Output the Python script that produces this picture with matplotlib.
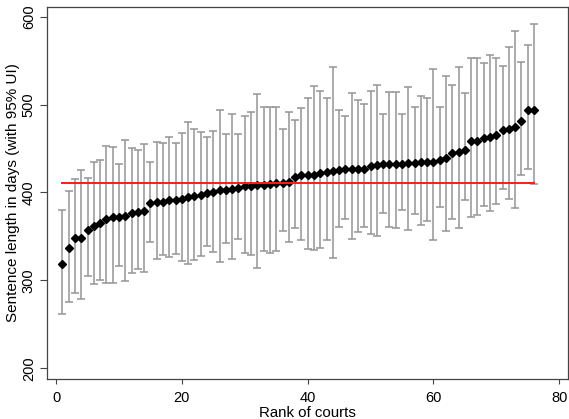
import numpy as np
import matplotlib
matplotlib.use('Agg')
import matplotlib.pyplot as plt

plt.rcParams['font.family'] = ['Liberation Sans', 'DejaVu Sans']

# estimates and 95% UI per court, ranked
rank = np.arange(1, 77)
est = [318.8, 336.7, 348.1, 348.1, 357.6, 361.4, 365.2, 369.7, 371.6, 371.6,
       372.8, 376.6, 378.1, 379.2, 387.9, 388.7, 389.5, 391.0, 391.8, 392.9,
       394.8, 396.3, 397.1, 399.3, 400.5, 402.4, 403.1, 404.3, 405.0, 406.9,
       407.7, 408.5, 408.1, 409.2, 410.7, 410.7, 411.5, 417.6, 419.9, 420.2,
       420.2, 422.1, 423.3, 424.8, 425.9, 426.7, 426.7, 426.7, 426.7, 429.7,
       431.6, 432.8, 432.8, 432.8, 432.8, 433.5, 433.5, 434.3, 434.3, 435.1,
       437.3, 439.2, 444.9, 445.7, 448.7, 458.2, 458.2, 462.0, 463.2, 465.8,
       470.8, 472.3, 474.6, 481.0, 493.6, 494.3]
upper = [380.4, 402.0, 415.3, 425.2, 416.4, 434.3, 436.6, 452.5, 451.8, 432.8,
         460.1, 450.3, 448.0, 455.6, 435.1, 457.5, 456.3, 462.8, 456.3, 467.8,
         480.3, 472.7, 468.5, 462.8, 470.0, 494.0, 466.2, 489.0, 466.6, 487.1,
         492.0, 512.6, 497.4, 497.4, 497.4, 472.7, 491.7, 482.2, 496.2, 507.2,
         521.3, 515.6, 508.0, 542.9, 494.0, 486.7, 513.3, 505.7, 501.2, 515.2,
         522.4, 489.8, 514.1, 514.5, 489.4, 519.8, 497.0, 510.3, 507.6, 540.7,
         497.7, 532.7, 522.8, 543.0, 513.3, 552.8, 552.8, 547.5, 557.0, 553.6,
         543.7, 565.4, 583.6, 548.3, 567.3, 591.2]
lower = [261.4, 275.1, 285.4, 278.9, 305.1, 296.0, 300.6, 296.8, 296.8, 316.5,
         299.1, 308.2, 312.7, 310.1, 343.5, 324.5, 329.1, 326.4, 329.5, 322.2,
         318.8, 323.4, 327.9, 338.6, 332.5, 320.7, 342.0, 324.1, 346.9, 331.0,
         329.1, 313.9, 333.6, 331.0, 334.0, 355.7, 343.5, 359.1, 345.4, 335.9,
         334.4, 337.4, 345.4, 325.3, 360.2, 369.7, 346.9, 354.5, 360.6, 352.6,
         350.7, 376.6, 360.6, 359.5, 379.6, 356.8, 375.4, 362.5, 367.4, 345.8,
         383.4, 355.7, 370.1, 359.1, 391.8, 372.4, 374.7, 384.2, 379.2, 387.2,
         404.3, 392.9, 382.3, 420.2, 426.7, 409.6]
overall = 411.1

est = np.array(est)
upper = np.array(upper)
lower = np.array(lower)

fig = plt.figure(figsize=(5.69, 4.19), dpi=100)
ax = fig.add_axes([46.7/569, 1 - 379/419, (568 - 46.7)/569, (379 - 6.7)/419])

ax.errorbar(rank, est, yerr=[est - lower, upper - est], fmt='none',
            ecolor='#959595', elinewidth=1.1, capsize=3.2, capthick=1.1, zorder=1)
ax.plot(rank, est, 'D', color='black', ms=4.4, zorder=2)
ax.plot([rank[0], rank[-1]], [overall, overall], color='#ff1a1a', lw=1.4, zorder=3)

ax.set_xlim(-1.5, 81.4)
ax.set_ylim(187.8, 611.4)
ax.set_xticks([0, 20, 40, 60, 80])
ax.set_yticks([200, 300, 400, 500, 600])
for s in ax.spines.values():
    s.set_color('#444444')
    s.set_linewidth(0.9)
ax.tick_params(direction='out', width=0.8, color='#444444', labelsize=10.5)
ax.tick_params(axis='x', length=3.6, pad=5)
ax.tick_params(axis='y', length=4.8, pad=3, labelrotation=90)
for lab in ax.get_yticklabels():
    lab.set_va('center')

ax.set_xlabel('Rank of courts', fontsize=10.8, labelpad=0.5)
ax.set_ylabel('Sentence length in days (with 95% UI)', fontsize=11, labelpad=1)

fig.savefig('out.png', dpi=100)
